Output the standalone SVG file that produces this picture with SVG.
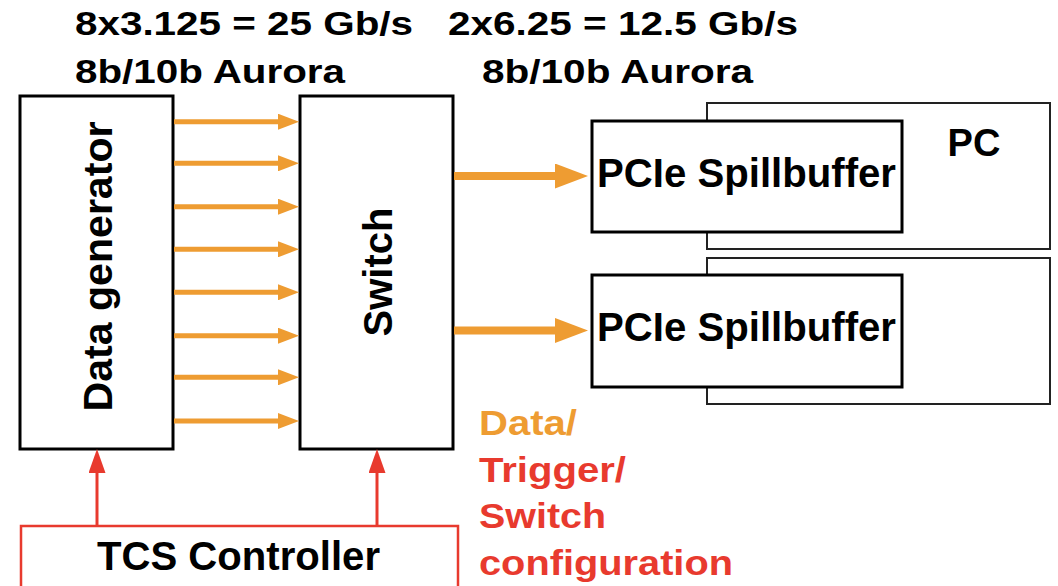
<svg xmlns="http://www.w3.org/2000/svg" width="1058" height="586" viewBox="0 0 1058 586">
  <style>
    text { font-family: "Liberation Sans", Arial, sans-serif; font-weight: bold; }
    .box { fill: #ffffff; stroke: #000000; stroke-width: 3; }
    .pc { fill: #ffffff; stroke: #222222; stroke-width: 2; }
    .tcs { fill: #ffffff; stroke: #E83A2E; stroke-width: 2.5; }
    .lbl { fill: #000000; }
    .orange { fill: #EE9C32; }
    .red { fill: #E83A2E; }
    .small { stroke: #EE9C32; stroke-width: 5; fill: none; }
    .big { stroke: #EE9C32; stroke-width: 8; fill: none; }
    .ctl { stroke: #E83A2E; stroke-width: 3; fill: none; }
  </style>
  <defs>
    <marker id="ahSmall" markerUnits="userSpaceOnUse" markerWidth="21" markerHeight="16" refX="7" refY="8" orient="auto">
      <path d="M0,0 L21,8 L0,16 Z" fill="#EE9C32"/>
    </marker>
    <marker id="ahBig" markerUnits="userSpaceOnUse" markerWidth="33" markerHeight="25" refX="13" refY="12.5" orient="auto">
      <path d="M0,0 L33,12.5 L0,25 Z" fill="#EE9C32"/>
    </marker>
    <marker id="ahRed" markerUnits="userSpaceOnUse" markerWidth="24" markerHeight="17" refX="12" refY="8.5" orient="auto">
      <path d="M0,0 L24,8.5 L0,17 Z" fill="#E83A2E"/>
    </marker>
  </defs>

  <rect width="1058" height="586" fill="#ffffff"/>

  <g id="header">
    <text x="75" y="35" font-size="34" textLength="338" lengthAdjust="spacingAndGlyphs" class="lbl">8x3.125 = 25 Gb/s</text>
    <text x="75" y="83" font-size="34" textLength="270" lengthAdjust="spacingAndGlyphs" class="lbl">8b/10b Aurora</text>
    <text x="448" y="35" font-size="34" textLength="350" lengthAdjust="spacingAndGlyphs" class="lbl">2x6.25 = 12.5 Gb/s</text>
    <text x="482" y="83" font-size="34" textLength="271" lengthAdjust="spacingAndGlyphs" class="lbl">8b/10b Aurora</text>
  </g>

  <g id="pc1">
    <rect x="707" y="103" width="343" height="146" class="pc"/>
    <text x="974" y="156" font-size="38" text-anchor="middle" class="lbl">PC</text>
  </g>
  <g id="pc2">
    <rect x="707" y="258" width="343" height="146" class="pc"/>
  </g>

  <g id="spillbuffer1">
    <rect x="592" y="121" width="310" height="111" class="box"/>
    <text x="597" y="187" font-size="40" textLength="299" lengthAdjust="spacingAndGlyphs" class="lbl">PCIe Spillbuffer</text>
  </g>
  <g id="spillbuffer2">
    <rect x="592" y="275" width="310" height="112" class="box"/>
    <text x="597" y="341" font-size="40" textLength="299" lengthAdjust="spacingAndGlyphs" class="lbl">PCIe Spillbuffer</text>
  </g>

  <g id="datagen">
    <rect x="20" y="96" width="153" height="353" class="box"/>
    <text transform="translate(111.5,266.5) rotate(-90)" font-size="40" text-anchor="middle" textLength="290" lengthAdjust="spacingAndGlyphs" class="lbl">Data generator</text>
  </g>

  <g id="switch">
    <rect x="300" y="96" width="153" height="353" class="box"/>
    <text transform="translate(391.5,272) rotate(-90)" font-size="40" text-anchor="middle" class="lbl">Switch</text>
  </g>

  <g id="tcs">
    <rect x="21" y="526" width="437" height="80" class="tcs"/>
    <text x="97" y="570" font-size="40" textLength="283" lengthAdjust="spacingAndGlyphs" class="lbl">TCS Controller</text>
  </g>

  <g id="legend">
    <text x="479" y="435" font-size="35" textLength="98" lengthAdjust="spacingAndGlyphs" class="orange">Data/</text>
    <text x="479" y="482" font-size="35" textLength="147" lengthAdjust="spacingAndGlyphs" class="red">Trigger/</text>
    <text x="479" y="528" font-size="35" textLength="127" lengthAdjust="spacingAndGlyphs" class="red">Switch</text>
    <text x="479" y="575" font-size="35" textLength="254" lengthAdjust="spacingAndGlyphs" class="red">configuration</text>
  </g>

  <g id="connectors">
    <line x1="174" y1="121.7" x2="285" y2="121.7" class="small" marker-end="url(#ahSmall)"/>
    <line x1="174" y1="163.3" x2="285" y2="163.3" class="small" marker-end="url(#ahSmall)"/>
    <line x1="174" y1="206.7" x2="285" y2="206.7" class="small" marker-end="url(#ahSmall)"/>
    <line x1="174" y1="249.3" x2="285" y2="249.3" class="small" marker-end="url(#ahSmall)"/>
    <line x1="174" y1="292.3" x2="285" y2="292.3" class="small" marker-end="url(#ahSmall)"/>
    <line x1="174" y1="335.7" x2="285" y2="335.7" class="small" marker-end="url(#ahSmall)"/>
    <line x1="174" y1="377.3" x2="285" y2="377.3" class="small" marker-end="url(#ahSmall)"/>
    <line x1="174" y1="421" x2="285" y2="421" class="small" marker-end="url(#ahSmall)"/>
    <line x1="454" y1="176" x2="568" y2="176" class="big" marker-end="url(#ahBig)"/>
    <line x1="454" y1="330.5" x2="568" y2="330.5" class="big" marker-end="url(#ahBig)"/>
    <line x1="97" y1="525" x2="97" y2="461" class="ctl" marker-end="url(#ahRed)"/>
    <line x1="377" y1="525" x2="377" y2="461" class="ctl" marker-end="url(#ahRed)"/>
  </g>
</svg>
